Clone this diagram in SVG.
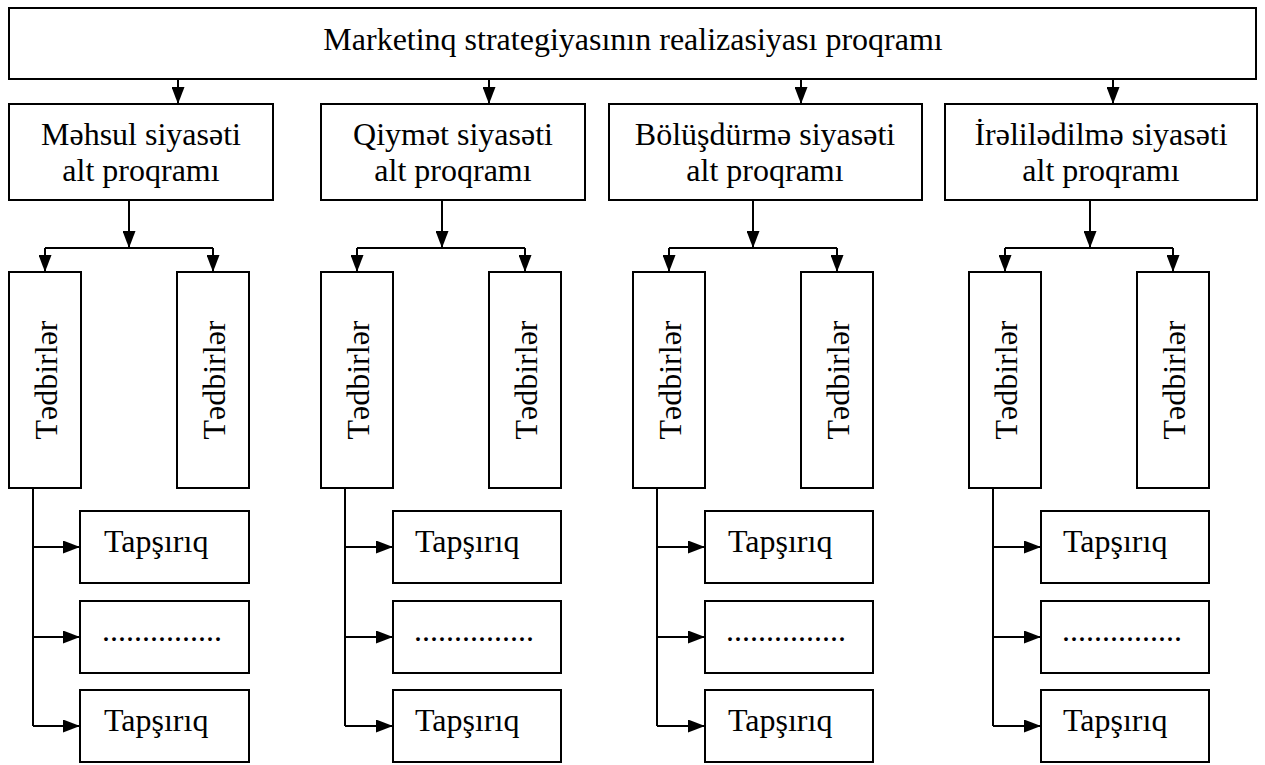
<svg xmlns="http://www.w3.org/2000/svg" width="1265" height="765" viewBox="0 0 1265 765">
<style>
.box{fill:#fff;stroke:#000;stroke-width:2}
.t{font-family:"Liberation Serif","Times New Roman",serif;font-size:32px;fill:#000}
.c{text-anchor:middle}
.ln{fill:none;stroke:#000;stroke-width:2}
.arr{fill:none;stroke:#000;stroke-width:2;marker-end:url(#ah)}
</style>
<defs>
<marker id="ah" markerUnits="userSpaceOnUse" viewBox="0 0 17 13" markerWidth="17" markerHeight="13" refX="17" refY="6.5" orient="auto">
<path d="M0,0 L17,6.5 L0,13 z" fill="#000"/>
</marker>
</defs>
<rect width="1265" height="765" fill="#fff"/>

<g id="connectors">
<path class="arr" d="M178,79 V104"/>
<path class="arr" d="M489,79 V104"/>
<path class="arr" d="M801,79 V104"/>
<path class="arr" d="M1113,79 V104"/>

<path class="arr" d="M129,200 V248"/>
<path class="ln" d="M45,248 H213"/>
<path class="arr" d="M45,248 V272"/>
<path class="arr" d="M213,248 V272"/>
<path class="ln" d="M33,488 V726"/>
<path class="arr" d="M33,547 H80"/>
<path class="arr" d="M33,637 H80"/>
<path class="arr" d="M33,726 H80"/>

<path class="arr" d="M442,200 V248"/>
<path class="ln" d="M357,248 H525"/>
<path class="arr" d="M357,248 V272"/>
<path class="arr" d="M525,248 V272"/>
<path class="ln" d="M345,488 V726"/>
<path class="arr" d="M345,547 H393"/>
<path class="arr" d="M345,637 H393"/>
<path class="arr" d="M345,726 H393"/>

<path class="arr" d="M753,200 V248"/>
<path class="ln" d="M669,248 H837"/>
<path class="arr" d="M669,248 V272"/>
<path class="arr" d="M837,248 V272"/>
<path class="ln" d="M657,488 V726"/>
<path class="arr" d="M657,547 H705"/>
<path class="arr" d="M657,637 H705"/>
<path class="arr" d="M657,726 H705"/>

<path class="arr" d="M1090,200 V248"/>
<path class="ln" d="M1005,248 H1173"/>
<path class="arr" d="M1005,248 V272"/>
<path class="arr" d="M1173,248 V272"/>
<path class="ln" d="M993,488 V726"/>
<path class="arr" d="M993,547 H1041"/>
<path class="arr" d="M993,637 H1041"/>
<path class="arr" d="M993,726 H1041"/>
</g>

<g id="main">
<rect class="box" x="9" y="8" width="1247" height="71"/>
<text class="t c" x="633" y="50">Marketinq strategiyasının realizasiyası proqramı</text>
</g>

<g id="sub1">
<rect class="box" x="9" y="104" width="264" height="96"/>
<text class="t c" x="141" y="145">Məhsul siyasəti</text>
<text class="t c" x="141" y="181">alt proqramı</text>
</g>
<g id="sub2">
<rect class="box" x="321" y="104" width="264" height="96"/>
<text class="t c" x="453" y="145">Qiymət siyasəti</text>
<text class="t c" x="453" y="181">alt proqramı</text>
</g>
<g id="sub3">
<rect class="box" x="609" y="104" width="313" height="96"/>
<text class="t c" x="765" y="145">Bölüşdürmə siyasəti</text>
<text class="t c" x="765" y="181">alt proqramı</text>
</g>
<g id="sub4">
<rect class="box" x="945" y="104" width="312" height="96"/>
<text class="t c" x="1101" y="145">İrəlilədilmə siyasəti</text>
<text class="t c" x="1101" y="181">alt proqramı</text>
</g>

<g id="ted1a"><rect class="box" x="9" y="272" width="72" height="216"/><text class="t c" transform="translate(57,380) rotate(-90)">Tədbirlər</text></g>
<g id="ted1b"><rect class="box" x="177" y="272" width="72" height="216"/><text class="t c" transform="translate(225,380) rotate(-90)">Tədbirlər</text></g>
<g id="ted2a"><rect class="box" x="321" y="272" width="72" height="216"/><text class="t c" transform="translate(369,380) rotate(-90)">Tədbirlər</text></g>
<g id="ted2b"><rect class="box" x="489" y="272" width="72" height="216"/><text class="t c" transform="translate(537,380) rotate(-90)">Tədbirlər</text></g>
<g id="ted3a"><rect class="box" x="633" y="272" width="72" height="216"/><text class="t c" transform="translate(681,380) rotate(-90)">Tədbirlər</text></g>
<g id="ted3b"><rect class="box" x="801" y="272" width="72" height="216"/><text class="t c" transform="translate(849,380) rotate(-90)">Tədbirlər</text></g>
<g id="ted4a"><rect class="box" x="969" y="272" width="72" height="216"/><text class="t c" transform="translate(1017,380) rotate(-90)">Tədbirlər</text></g>
<g id="ted4b"><rect class="box" x="1137" y="272" width="72" height="216"/><text class="t c" transform="translate(1185,380) rotate(-90)">Tədbirlər</text></g>

<g id="tap1a"><rect class="box" x="80" y="511" width="169" height="72"/><text class="t" x="104" y="552">Tapşırıq</text></g>
<g id="tap1b"><rect class="box" x="80" y="601" width="169" height="72"/><text class="t" x="102" y="641">...............</text></g>
<g id="tap1c"><rect class="box" x="80" y="690" width="169" height="72"/><text class="t" x="104" y="731">Tapşırıq</text></g>

<g id="tap2a"><rect class="box" x="393" y="511" width="168" height="72"/><text class="t" x="415" y="552">Tapşırıq</text></g>
<g id="tap2b"><rect class="box" x="393" y="601" width="168" height="72"/><text class="t" x="414" y="641">...............</text></g>
<g id="tap2c"><rect class="box" x="393" y="690" width="168" height="72"/><text class="t" x="415" y="731">Tapşırıq</text></g>

<g id="tap3a"><rect class="box" x="705" y="511" width="168" height="72"/><text class="t" x="728" y="552">Tapşırıq</text></g>
<g id="tap3b"><rect class="box" x="705" y="601" width="168" height="72"/><text class="t" x="726" y="641">...............</text></g>
<g id="tap3c"><rect class="box" x="705" y="690" width="168" height="72"/><text class="t" x="728" y="731">Tapşırıq</text></g>

<g id="tap4a"><rect class="box" x="1041" y="511" width="168" height="72"/><text class="t" x="1063" y="552">Tapşırıq</text></g>
<g id="tap4b"><rect class="box" x="1041" y="601" width="168" height="72"/><text class="t" x="1062" y="641">...............</text></g>
<g id="tap4c"><rect class="box" x="1041" y="690" width="168" height="72"/><text class="t" x="1063" y="731">Tapşırıq</text></g>
</svg>
